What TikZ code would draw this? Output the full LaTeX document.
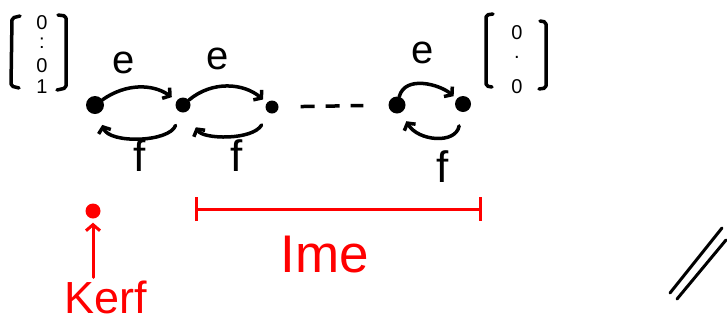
\documentclass[tikz,border=0pt]{standalone}
\usepackage{fontspec}
\setmainfont{Liberation Sans}
\usetikzlibrary{arrows.meta}
\begin{document}
\begin{tikzpicture}[x=1pt,y=1pt,
  dot/.style={circle,fill=black,inner sep=0pt},
  stroke/.style={line width=3.5pt,line cap=round,line join=round},
  arr/.style={stroke,-{Straight Barb[length=5pt,width=13pt]}},
  lbl/.style={inner sep=0pt,font=\fontsize{40}{40}\selectfont},
  flbl/.style={inner sep=0pt,font=\fontsize{44}{44}\selectfont},
  ent/.style={inner sep=0pt,font=\fontsize{20}{20}\selectfont},
  rstroke/.style={red,line width=3pt,line cap=round,line join=round},
  rlbl/.style={red,inner sep=0pt}]
\useasboundingbox (0,0) rectangle (727,-322);

% left vector
\draw[stroke,rounded corners=2pt] (20,-16) -- (12,-18) -- (11,-86) -- (19,-88);
\draw[stroke,rounded corners=2pt] (58,-15) -- (66,-16) -- (66,-88) -- (57,-90);
\node[ent] (l1) at (42,-23) {0};
\node[ent] (l2) at (42,-43) {:};
\node[ent] (l3) at (42,-66) {0};
\node[ent] (l4) at (42,-87) {1};

% right vector
\draw[stroke,rounded corners=2pt] (493,-14) -- (486,-15) -- (486,-86) -- (492,-87);
\draw[stroke,rounded corners=2pt] (540,-21) -- (546,-22) -- (546,-88) -- (539,-89);
\node[ent] (r1) at (517,-33) {0};
\node[ent] (r2) at (517,-57) {.};
\node[ent] (r3) at (517,-87) {0};

% chain nodes
\node[dot,minimum size=18pt] (n1) at (95,-105) {};
\node[dot,minimum size=15pt] (n2) at (183,-105) {};
\node[dot,minimum size=13pt] (n3) at (272,-107) {};
\node[dot,minimum size=17pt] (n4) at (397,-105) {};
\node[dot,minimum size=16pt] (n5) at (463,-104) {};

% e arrows
\draw[arr,shorten >=6pt] (n1) to[out=35,in=145] (n2);
\draw[arr,shorten >=5pt] (n2) to[out=40,in=140] (n3);
\draw[arr,shorten >=4pt] (n4) to[out=75,in=140] (n5);
% f arrows
\draw[arr,shorten <=14pt,shorten >=12pt] (n2) to[out=-110,in=-70] (n1);
\draw[arr,shorten <=14pt,shorten >=18pt] (n3) to[out=-120,in=-60] (n2);
\draw[arr,shorten <=14pt,shorten >=10pt] (n5) to[out=-100,in=-60,looseness=1.4] (n4);

% dashes
\draw[stroke,line cap=butt,dash pattern=on 14pt off 11pt,shorten <=22pt,shorten >=25pt] (n3) -- (n4);

% labels
\node[lbl] (e1) at (124,-63) {e};
\node[lbl] (e2) at (218,-59) {e};
\node[lbl] (e3) at (423,-53) {e};
\node[flbl] (f1) at (140,-156) {f};
\node[flbl] (f2) at (237,-156) {f};
\node[flbl] (f3) at (443,-167) {f};

% red: kernel
\node[circle,fill=red,inner sep=0pt,minimum size=15pt] (kdot) at (93,-211) {};
\node[rlbl,font=\fontsize{45}{45}\selectfont] (kerf) at (106,-297) {Kerf};
\draw[rstroke,-{Straight Barb[length=6pt,width=14pt]},shorten >=4pt,shorten <=3pt] (kdot |- kerf.north) -- (kdot);

% red: image
\coordinate (ia) at (195,-209);
\coordinate (ib) at (482,-209);
\draw[rstroke,{Bar[width=24pt]}-{Bar[width=24pt]}] (ia) -- (ib);
\node[rlbl,font=\fontsize{53}{53}\selectfont] (ime) at (325,-255) {Ime};

% double stroke bottom right
\draw[stroke,line width=3pt] (670,-293) -- (722,-228);
\draw[stroke,line width=3pt] (677,-299) -- (726,-240);
\end{tikzpicture}
\end{document}
